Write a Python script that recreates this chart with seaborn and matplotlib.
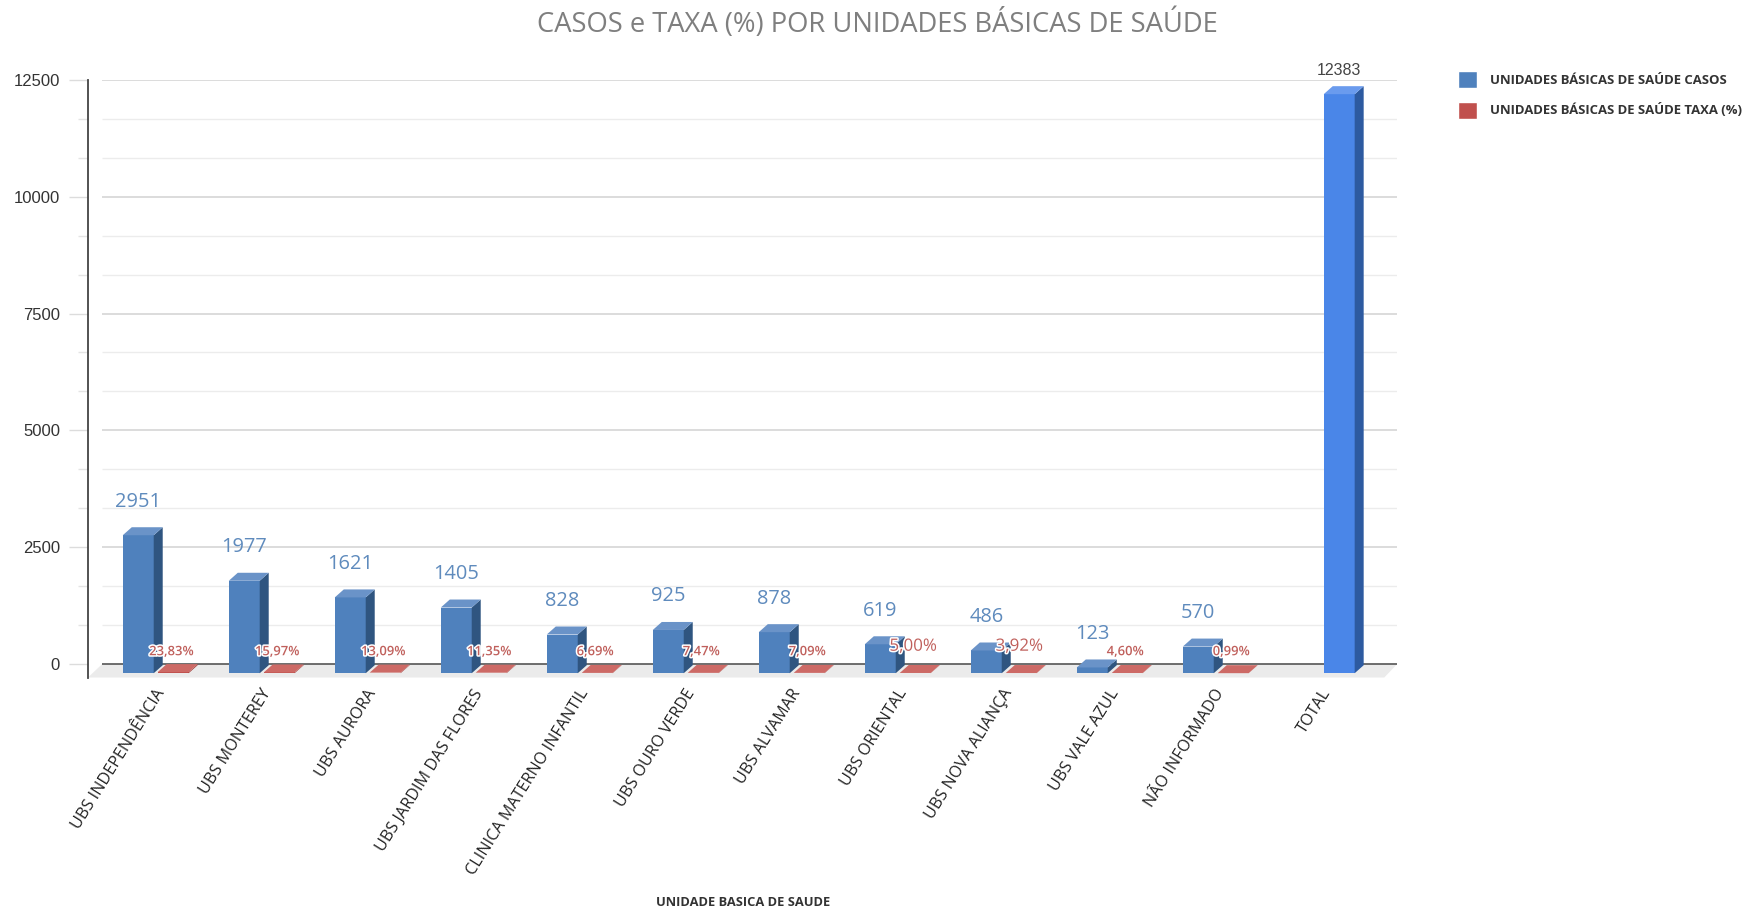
#!/usr/bin/env python3
# -*- coding: utf-8 -*-

import numpy as np
import pandas as pd
import matplotlib
matplotlib.use('Agg')
import matplotlib.pyplot as plt
import matplotlib.patheffects as pe
from matplotlib.transforms import Affine2D, ScaledTranslation
import seaborn as sns

UNIDADES = ['UBS INDEPENDÊNCIA', 'UBS MONTEREY', 'UBS AURORA', 'UBS JARDIM DAS FLORES',
            'CLINICA MATERNO INFANTIL', 'UBS OURO VERDE', 'UBS ALVAMAR', 'UBS ORIENTAL',
            'UBS NOVA ALIANÇA', 'UBS VALE AZUL', 'NÃO INFORMADO']
TOTAL_LABEL = 'TOTAL'
CASOS = [2951, 1977, 1621, 1405, 828, 925, 878, 619, 486, 123, 570]
TAXA = [23.83, 15.97, 13.09, 11.35, 6.69, 7.47, 7.09, 5.00, 3.92, 4.60, 0.99]
TOTAL_CASOS = [12383]

SERIE_CASOS = 'UNIDADES BÁSICAS DE SAÚDE CASOS'
SERIE_TAXA = 'UNIDADES BÁSICAS DE SAÚDE TAXA (%)'
SERIE_TOTAL = 'TOTAL'

W, H, DPI = 1746, 909, 100
PT = 72 / DPI  # 1 px em pontos

sns.set_theme(style='white')
plt.rcParams['font.family'] = ['Open Sans', 'DejaVu Sans']

order = UNIDADES + [TOTAL_LABEL]
df = pd.DataFrame({
    'unidade': UNIDADES * 2,
    'serie': [SERIE_CASOS] * len(CASOS) + [SERIE_TAXA] * len(TAXA),
    'valor': CASOS + TAXA,
})
df_total = pd.DataFrame({'unidade': [TOTAL_LABEL], 'serie': [SERIE_TOTAL], 'valor': TOTAL_CASOS})

fig = plt.figure(figsize=(W / DPI, H / DPI), dpi=DPI, facecolor='white')
left, right, top, bottom = 88, 1397, 79.7, 677.5
ax = fig.add_axes([left / W, 1 - bottom / H, (right - left) / W, (bottom - top) / H])

palette = {SERIE_CASOS: '#4f81bd', SERIE_TAXA: '#c0504d', SERIE_TOTAL: '#4a86e8'}
sns.barplot(df, x='unidade', y='valor', hue='serie', order=order,
            hue_order=[SERIE_CASOS, SERIE_TAXA], palette=palette,
            width=0.659, gap=0.114, saturation=1, ax=ax)
# o total fica na segunda posicao do grupo, como no original
sns.barplot(df_total, x='unidade', y='valor', hue='serie', order=order,
            hue_order=[SERIE_CASOS, SERIE_TOTAL], palette=palette,
            width=0.659, gap=0.114, saturation=1, dodge=True, legend=False, ax=ax)

x_min, x_max = -0.6387, 11.71
wall_x = -0.507
ax.set_xlim(x_min, x_max)
ax.set_ylim(-284, 12500)

# parede: grade principal e secundaria
major = np.arange(0, 12501, 2500)
minor = np.array([y for y in np.arange(0, 12500.1, 2500 / 3) if y % 2500 > 1 and y % 2500 < 2499])
ax.hlines(major[1:], wall_x, x_max, color='#d2d2d2', lw=1.1, zorder=0.5)
ax.hlines(minor, wall_x, x_max, color='#ececec', lw=1.0, zorder=0.5)
ax.hlines(0, wall_x, x_max, color='#555555', lw=1.2, zorder=0.7)

# chao
ax.fill([x_min, wall_x, x_max, x_max - 0.12], [-284, 0, 0, -284], color='#ebebeb', lw=0, zorder=0.6)

# efeito 3D a partir das barras desenhadas pelo seaborn
shift = ax.transData + Affine2D().translate(0, -9)
dx = 9 / 106.0
dy = 8 / 0.0468
# a segunda chamada pode criar um container vazio para o nivel sem dados
bars_casos, bars_taxa, bars_total = ax.containers[0], ax.containers[1], ax.containers[-1]
shades = [('#2f5580', '#6a93c8'), ('#a33f3c', '#cd6a66'), ('#2d5aa0', '#6a9bee')]
for container, (side, cap) in zip([bars_casos, bars_taxa, bars_total], shades):
    for bar in container:
        x0, x1, h = bar.get_x(), bar.get_x() + bar.get_width(), bar.get_height()
        bar.set_transform(shift)
        bar.set_clip_on(False)
        bar.set_zorder(3)
        bar.set_linewidth(0)
        ax.fill([x1, x1 + dx, x1 + dx, x1], [0, dy, h + dy, h], color=side, lw=0,
                transform=shift, clip_on=False, zorder=3)
        ax.fill([x0, x1, x1 + dx, x0 + dx], [h, h, h + dy, h + dy], color=cap, lw=0,
                transform=shift, clip_on=False, zorder=3)

# rotulos
halo = [pe.withStroke(linewidth=2.2, foreground='white')]
for bar, v in zip(bars_casos, CASOS):
    ax.annotate(str(v), (bar.get_x() + bar.get_width() / 2, v), xytext=(0, 24.5 * PT),
                textcoords='offset points', ha='center', va='center',
                fontsize=14.4, color='#5f8bbd', zorder=5, annotation_clip=False)
for bar, v in zip(bars_taxa, TAXA):
    grande = v in (5.00, 3.92)
    ax.annotate(f'{v:.2f}'.replace('.', ',') + '%', (bar.get_x() + bar.get_width() / 2, 0),
                xytext=(-2 * PT, (17.5 if grande else 12.5) * PT), textcoords='offset points',
                ha='center', va='center', fontsize=12.2 if grande else 9.4,
                fontweight='normal' if grande else 'semibold', color='#c0605c',
                path_effects=halo, zorder=5, annotation_clip=False)
for bar, v in zip(bars_total, TOTAL_CASOS):
    ax.annotate(str(v), (bar.get_x() + bar.get_width() / 2, v), xytext=(0, 14.5 * PT),
                textcoords='offset points', ha='center', va='center',
                fontsize=11.5, color='#444444', family='Liberation Sans',
                zorder=5, annotation_clip=False)

# eixos
sns.despine(ax=ax, top=True, right=True, bottom=True)
ax.spines['left'].set_color('#444444')
ax.spines['left'].set_linewidth(1.3)
ax.set_yticks(major)
ax.set_yticks(minor, minor=True)
ax.tick_params(axis='y', which='major', left=True, length=19 * PT, width=1, color='#dcdcdc',
               pad=9 * PT, labelsize=12, labelcolor='#333333')
ax.tick_params(axis='y', which='minor', left=True, length=10 * PT, width=1, color='#e4e4e4')
for t in ax.get_yticklabels():
    t.set_family('Liberation Sans')
ax.set_ylabel('')

ax.set_xticks(range(len(order)))
ax.set_xticklabels(order, rotation=58, ha='right', va='center', rotation_mode='anchor',
                   fontsize=11.6, color='#222222')
ax.tick_params(axis='x', length=0, pad=13 * PT)
nudge = ScaledTranslation(5.5 / DPI, 0, fig.dpi_scale_trans)
for t in ax.get_xticklabels():
    t.set_transform(t.get_transform() + nudge)

ax.set_xlabel('UNIDADE BASICA DE SAUDE', fontsize=9.3, fontweight='bold', color='#333333', va='center')
ax.xaxis.set_label_coords(743 / W, 1 - 902 / H, transform=fig.transFigure)

fig.text(877 / W, 1 - 24 / H, 'CASOS e TAXA (%) POR UNIDADES BÁSICAS DE SAÚDE',
         ha='center', va='center', fontsize=19.7, color='#7f7f7f')

sns.move_legend(ax, 'upper left', bbox_to_anchor=(1458 / W, 1 - 71 / H),
                bbox_transform=fig.transFigure, frameon=False, title=None,
                fontsize=9.45, handlelength=1.45, handleheight=1.64, labelspacing=1.02,
                handletextpad=1.0, borderpad=0, borderaxespad=0)
for t in ax.get_legend().get_texts():
    t.set_fontweight('bold')
    t.set_color('#333333')

fig.savefig('out.png', dpi=DPI)
